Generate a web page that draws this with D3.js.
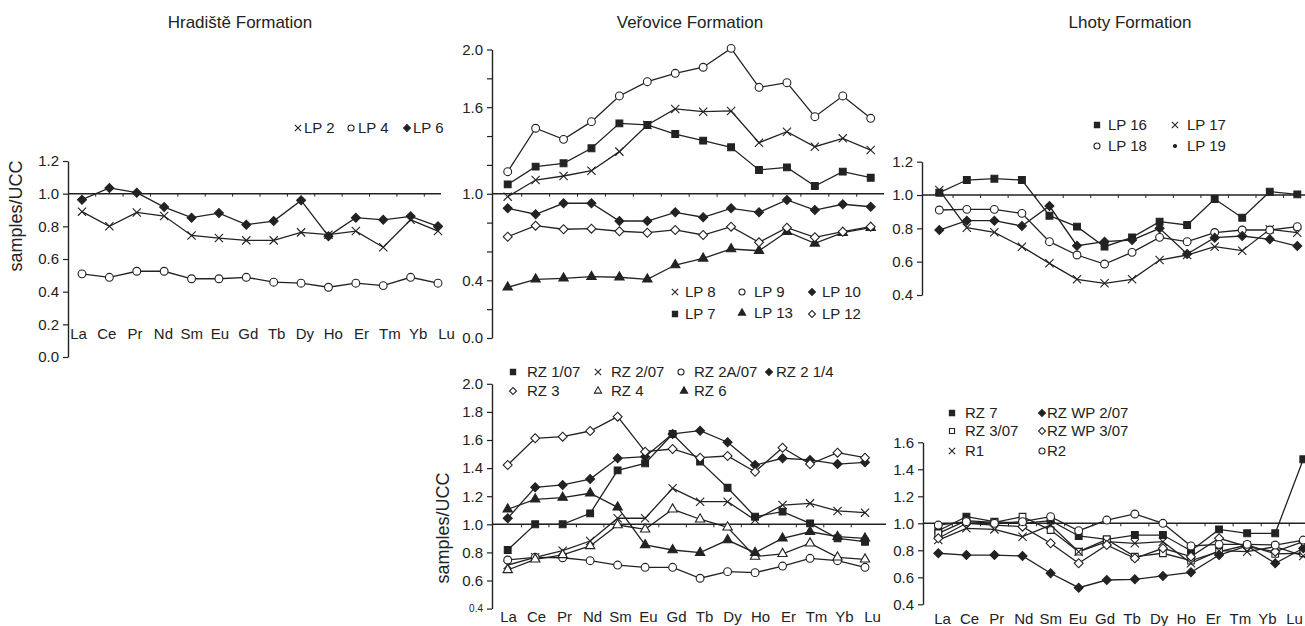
<!DOCTYPE html>
<html>
<head>
<meta charset="utf-8">
<script src="https://cdn.jsdelivr.net/npm/d3@7"></script>
<style>
  body { margin: 0; background: #fff; }
  svg { display: block; font-family: Arial, "Liberation Sans", sans-serif; }
</style>
</head>
<body>
<svg id="chart" width="1305" height="626"></svg>
<script>
// rare earth elements (x categories)
const ree = ["La","Ce","Pr","Nd","Sm","Eu","Gd","Tb","Dy","Ho","Er","Tm","Yb","Lu"];

// Hradiste Formation
const lp2 = [0.89,0.80,0.885,0.863,0.744,0.728,0.714,0.714,0.763,0.749,0.771,0.672,0.84,0.771];
const lp4 = [0.509,0.488,0.525,0.525,0.479,0.479,0.488,0.458,0.452,0.427,0.452,0.437,0.488,0.452];
const lp6 = [0.963,1.035,1.006,0.918,0.853,0.881,0.81,0.832,0.959,0.74,0.853,0.84,0.861,0.80];

// Verovice Formation
const lp8 = [0.98,1.095,1.123,1.16,1.292,1.477,1.588,1.569,1.574,1.354,1.43,1.326,1.384,1.303];
const lp9 = [1.153,1.454,1.377,1.5,1.678,1.777,1.835,1.877,2.008,1.738,1.77,1.534,1.678,1.523];
const lp10 = [0.899,0.858,0.934,0.934,0.811,0.811,0.871,0.837,0.899,0.871,0.957,0.887,0.927,0.91];
const lp7 = [1.065,1.188,1.211,1.315,1.488,1.477,1.414,1.368,1.322,1.165,1.183,1.054,1.153,1.111];
const lp13 = [0.351,0.407,0.414,0.425,0.421,0.407,0.506,0.552,0.617,0.605,0.737,0.656,0.73,0.765];
const lp12 = [0.702,0.779,0.754,0.758,0.74,0.73,0.749,0.714,0.772,0.663,0.765,0.698,0.737,0.772];

// Lhoty Formation
const lp16 = [1.014,1.09,1.098,1.09,0.876,0.81,0.69,0.746,0.84,0.82,0.976,0.864,1.02,1.004];
const lp17 = [1.03,0.804,0.776,0.69,0.59,0.494,0.47,0.494,0.61,0.64,0.69,0.666,0.794,0.774];
const lp18 = [0.91,0.914,0.914,0.89,0.72,0.64,0.586,0.656,0.746,0.72,0.775,0.79,0.79,0.81];
const lp19 = [0.79,0.846,0.846,0.814,0.934,0.696,0.72,0.73,0.8,0.646,0.744,0.754,0.734,0.694];

// RZ samples (bottom middle)
const rz107 = [0.817,1.0,1.0,1.078,1.384,1.434,1.643,1.446,1.26,1.054,1.09,1.007,0.9,0.876];
const rz207 = [0.71,0.765,0.812,0.881,1.043,1.043,1.256,1.161,1.161,1.031,1.137,1.149,1.095,1.083];
const rz2a07 = [0.746,0.765,0.762,0.741,0.71,0.694,0.694,0.616,0.663,0.656,0.703,0.758,0.741,0.694];
const rz214 = [1.043,1.263,1.28,1.322,1.47,1.481,1.643,1.666,1.584,1.422,1.47,1.458,1.429,1.441];
const rz3 = [1.422,1.612,1.624,1.664,1.766,1.517,1.536,1.474,1.486,1.374,1.545,1.429,1.51,1.474];
const rz4 = [0.675,0.751,0.782,0.846,0.995,0.964,1.107,1.036,0.979,0.77,0.79,0.865,0.765,0.751];
const rz6 = [1.107,1.178,1.19,1.221,1.121,0.853,0.817,0.798,0.888,0.798,0.9,0.947,0.912,0.9];

// RZ / R samples (bottom right)
const rz7 = [0.945,1.049,1.012,1.0,1.02,0.906,0.881,0.913,0.913,0.797,0.955,0.926,0.926,1.474];
const rz307 = [0.926,1.02,1.007,1.049,0.95,0.79,0.881,0.753,0.778,0.723,0.79,0.839,0.773,0.778];
const r1 = [0.876,0.963,0.955,0.901,0.987,0.79,0.864,0.852,0.864,0.704,0.797,0.79,0.827,0.758];
const rzwp207 = [0.778,0.765,0.765,0.758,0.63,0.523,0.58,0.585,0.61,0.637,0.765,0.832,0.704,0.815];
const rzwp307 = [0.889,1.0,0.987,0.975,0.852,0.704,0.839,0.741,0.815,0.753,0.889,0.827,0.79,0.864];
const r2 = [0.987,1.012,1.0,1.012,1.049,0.945,1.024,1.069,1.0,0.832,0.844,0.844,0.839,0.876];

// y ticks
const ticks1 = [0,0.2,0.4,0.6,0.8,1.0,1.2];
const ticks2 = [0,0.2,0.4,0.6,0.8,1.0,1.2,1.4,1.6,1.8,2.0];
const ticks2Shown = [0,0.4,1.0,1.6,2.0];
const ticks3 = [0.4,0.6,0.8,1.0,1.2];
const ticks4 = [0.4,0.6,0.8,1.0,1.2,1.4,1.6,1.8,2.0];
const ticks5 = [0.4,0.6,0.8,1.0,1.2,1.4,1.6];

const ink = "#222";
const svg = d3.select("#chart");

// marker styles
const symStyle = {
  x:   {type: d3.symbolTimes, size: 46, fill: "none"},
  o:   {type: d3.symbolCircle, size: 48, fill: "#fff"},
  dia: {type: d3.symbolSquare, size: 40, fill: ink, rot: 45},
  odia:{type: d3.symbolSquare, size: 40, fill: "#fff", rot: 45},
  sq:  {type: d3.symbolSquare, size: 46, fill: ink},
  osq: {type: d3.symbolSquare, size: 44, fill: "#fff"},
  tri: {type: d3.symbolTriangle, size: 38, fill: ink},
  otri:{type: d3.symbolTriangle, size: 38, fill: "#fff"},
  dot: {type: d3.symbolCircle, size: 12, fill: ink}
};

function addMark(g, key, x, y, k) {
  const s = symStyle[key];
  g.append("path")
    .attr("d", d3.symbol().type(s.type).size(s.size * k)())
    .attr("transform", `translate(${x},${y})` + (s.rot ? ` rotate(${s.rot})` : ""))
    .attr("fill", s.fill)
    .attr("stroke", ink)
    .attr("stroke-width", 1.1);
}

const panels = [
  {
    title: "Hradiště Formation", titleX: 240,
    xRange: [82, 438], labelRange: [78, 446], labelY: 328,
    yDomain: [0, 1.2], yRange: [357, 161], axisX: 68, lineEnd: 441,
    ticks: ticks1, shown: ticks1,
    yLabel: [16, 216],
    series: [["x", lp2], ["o", lp4], ["dia", lp6]],
    legend: [
      ["x", "LP 2", 298, 128, 304], ["o", "LP 4", 351, 128, 358], ["dia", "LP 6", 407, 128, 413]
    ]
  },
  {
    title: "Veřovice Formation", titleX: 690,
    xRange: [507.7, 870.7], labelRange: null,
    yDomain: [0, 2.0], yRange: [338, 49.5], axisX: 492, lineEnd: 884,
    ticks: ticks2, shown: ticks2Shown,
    series: [["x", lp8], ["o", lp9], ["dia", lp10], ["sq", lp7], ["tri", lp13], ["odia", lp12]],
    legend: [
      ["x", "LP 8", 675, 292, 685], ["o", "LP 9", 742, 292, 754], ["dia", "LP 10", 812, 292, 822],
      ["sq", "LP 7", 675, 314, 685], ["tri", "LP 13", 742, 313, 754], ["odia", "LP 12", 812, 314, 822]
    ]
  },
  {
    title: "Lhoty Formation", titleX: 1130,
    xRange: [939.3, 1297.3], labelRange: null,
    yDomain: [0.4, 1.2], yRange: [295, 161.7], axisX: 922, lineEnd: 1305,
    ticks: ticks3, shown: ticks3,
    series: [["sq", lp16], ["x", lp17], ["o", lp18], ["dia", lp19]],
    legend: [
      ["sq", "LP 16", 1097, 125, 1108], ["x", "LP 17", 1175, 125, 1187],
      ["o", "LP 18", 1097, 146, 1108], ["dot", "LP 19", 1175, 146, 1187]
    ]
  },
  {
    title: null,
    xRange: [507.7, 865], labelRange: [508, 872], labelY: 611,
    yDomain: [0.4, 2.0], yRange: [608.6, 383.8], axisX: 492, lineEnd: 886,
    ticks: ticks4, shown: ticks4, smallFirst: true,
    yLabel: [443, 528],
    series: [["sq", rz107], ["x", rz207], ["o", rz2a07], ["dia", rz214], ["odia", rz3], ["otri", rz4], ["tri", rz6]],
    legend: [
      ["sq", "RZ 1/07", 513, 372, 527], ["x", "RZ 2/07", 598, 372, 611],
      ["o", "RZ 2A/07", 681, 372, 694], ["dia", "RZ 2 1/4", 769, 372, 776],
      ["odia", "RZ 3", 513, 391, 527], ["otri", "RZ 4", 598, 391, 611], ["tri", "RZ 6", 684, 391, 694]
    ]
  },
  {
    title: null,
    xRange: [938.3, 1303.3], labelRange: [942, 1294], labelY: 613,
    yDomain: [0.4, 1.6], yRange: [604.3, 442.3], axisX: 923, lineEnd: 1305,
    ticks: ticks5, shown: ticks5,
    series: [["sq", rz7], ["osq", rz307], ["x", r1], ["dia", rzwp207], ["odia", rzwp307], ["o", r2]],
    legend: [
      ["sq", "RZ 7", 952, 413, 965], ["dia", "RZ WP 2/07", 1042, 413, 1047],
      ["osq", "RZ 3/07", 952, 431, 965], ["odia", "RZ WP 3/07", 1042, 431, 1047],
      ["x", "R1", 952, 451, 965], ["o", "R2", 1042, 451, 1047]
    ]
  }
];

panels.forEach(p => {
  const g = svg.append("g");
  const x = d3.scalePoint().domain(ree).range(p.xRange);
  const y = d3.scaleLinear().domain(p.yDomain).range(p.yRange);

  if (p.title) {
    g.append("text").attr("x", p.titleX).attr("y", 28)
      .attr("text-anchor", "middle").attr("font-size", 17).attr("fill", ink)
      .text(p.title);
  }

  // y axis
  const ya = g.append("g").attr("transform", `translate(${p.axisX},0)`)
    .call(d3.axisLeft(y).tickValues(p.ticks).tickSize(5).tickSizeOuter(0).tickPadding(4)
      .tickFormat(v => p.shown.some(s => Math.abs(s - v) < 1e-9) ? d3.format(".1f")(v) : ""));
  ya.select(".domain").attr("stroke", ink).attr("stroke-width", 1.4);
  ya.selectAll(".tick line").attr("stroke", ink).attr("stroke-width", 1.2);
  ya.selectAll(".tick text").attr("font-size", 15).attr("fill", ink)
    .attr("font-family", "Arial, 'Liberation Sans', sans-serif");
  if (p.smallFirst) ya.selectAll(".tick text").filter(d => d === 0.4).attr("font-size", 10);

  // reference line at 1.0 with category ticks
  const y1 = y(1.0);
  g.append("line").attr("x1", p.axisX).attr("x2", p.lineEnd)
    .attr("y1", y1).attr("y2", y1).attr("stroke", ink).attr("stroke-width", 1.5);
  ree.slice(0, -1).forEach(c => {
    const tx = x(c) + x.step() / 2;
    g.append("line").attr("x1", tx).attr("x2", tx).attr("y1", y1).attr("y2", y1 + 3)
      .attr("stroke", ink).attr("stroke-width", 1);
  });

  // category labels
  if (p.labelRange) {
    const lx = d3.scalePoint().domain(ree).range(p.labelRange);
    const xa = g.append("g").attr("transform", `translate(0,${p.labelY})`)
      .call(d3.axisBottom(lx).tickSize(0).tickPadding(0));
    xa.select(".domain").remove();
    xa.selectAll(".tick text").attr("font-size", 15).attr("fill", ink)
      .attr("font-family", "Arial, 'Liberation Sans', sans-serif");
  }

  if (p.yLabel) {
    g.append("text")
      .attr("transform", `translate(${p.yLabel[0]},${p.yLabel[1]}) rotate(-90)`)
      .attr("text-anchor", "middle").attr("dy", "0.35em")
      .attr("font-size", 18).attr("fill", ink).text("samples/UCC");
  }

  // lines
  const line = d3.line().x((d, i) => x(ree[i])).y(d => y(d));
  p.series.forEach(([sym, vals]) => {
    g.append("path").datum(vals).attr("d", line)
      .attr("fill", "none").attr("stroke", ink).attr("stroke-width", 1.3);
  });
  // markers
  p.series.forEach(([sym, vals]) => {
    vals.forEach((v, i) => addMark(g, sym, x(ree[i]), y(v), 1));
  });

  // legend
  p.legend.forEach(([sym, label, sx, sy, tx]) => {
    addMark(g, sym, sx, sy, 0.6);
    g.append("text").attr("x", tx).attr("y", sy).attr("dy", "0.35em")
      .attr("font-size", 15).attr("fill", ink).text(label);
  });
});
</script>
</body>
</html>
